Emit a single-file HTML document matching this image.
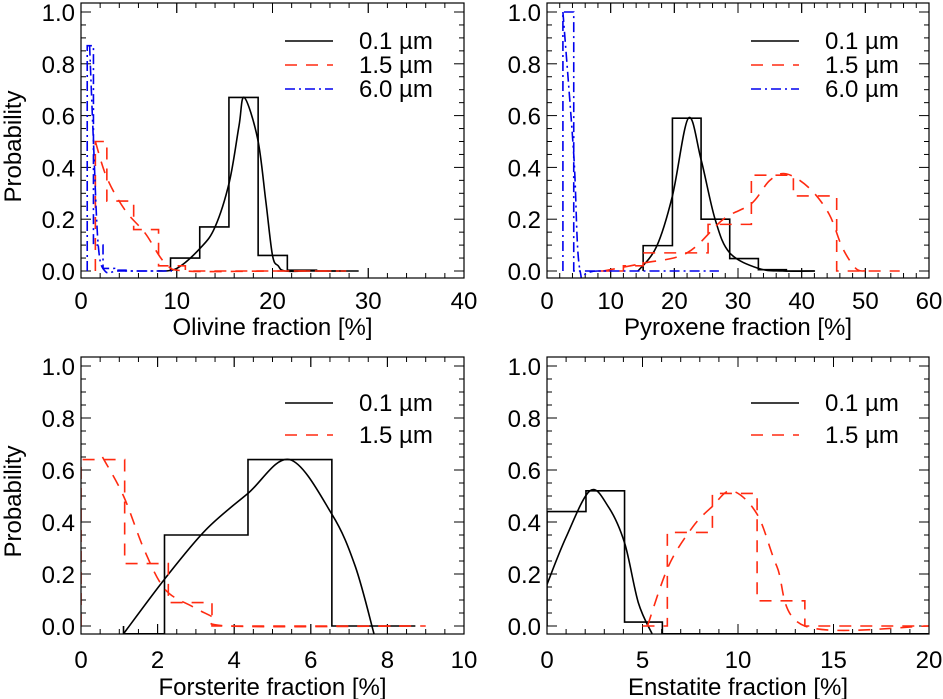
<!DOCTYPE html>
<html><head><meta charset="utf-8">
<style>
html,body{margin:0;padding:0;background:#fff;}
svg{display:block;font-family:"Liberation Sans",Arial,sans-serif;}
</style></head>
<body>
<svg id="fig" width="943" height="699" viewBox="0 0 943 699" xmlns="http://www.w3.org/2000/svg"></svg>
<script>
// ---------- Panel A: Olivine ----------
const olHistEdges = [9.35,12.4,15.45,18.5,21.55,24.6,27.65];
const olHistVals  = [0.05,0.17,0.67,0.06,0.003,0.0];
const olCurveX = [8,10,12.5,14,15.5,16.5,17.05,18.45,19.3,20,20.6,21.3,24,29];
const olCurveY = [0,0.01,0.09,0.17,0.345,0.56,0.67,0.51,0.27,0.06,0.02,0,0,0];
const olRedEdges = [1.5,2.7,5.5,8.1,10.9,13.7,16.5,19.3,22.1,24.9,27.7];
const olRedVals  = [0.5,0.27,0.16,0.02,0,0,0,0,0,0];
const olRedCurveX = [1.5,2.7,4.6,6.7,8.8,11,20,27];
const olRedCurveY = [0.5,0.36,0.235,0.146,0.03,0,0,0];
const olBlueEdges = [0.65,1.3,2.3,3.5,4.7,5.9,7.1,8.3,9.5];
const olBlueVals  = [0.87,0.1,0.01,0.003,0,0,0,0];
const olBlueCurveX = [0.9,1.3,1.8,2.5,4,8];
const olBlueCurveY = [0.87,0.5,0.1,0,0,0];

// ---------- Panel B: Pyroxene ----------
const pyHistEdges = [15.1,19.7,24.2,28.7,33.2,37.6,42.1];
const pyHistVals  = [0.098,0.59,0.2,0.048,0.005,0.0];
const pyCurveX = [14.3,17.2,19.7,22.2,24.2,26.4,28.7,33.2,37,42];
const pyCurveY = [0,0.094,0.29,0.59,0.43,0.2,0.07,0.01,0,0];
const pyRedEdges = [8.06,12.0,15.1,25.3,32.1,38.7,45.5,55.4];
const pyRedVals  = [0,0.02,0.07,0.18,0.37,0.29,0];
const pyRedCurveX = [8.8,15.1,22,27.7,32.1,35,37.6,41.2,44.3,46.4,48.5,50];
const pyRedCurveY = [0,0.03,0.07,0.2,0.26,0.35,0.375,0.32,0.22,0.09,0.01,0];
const pyBlueEdges = [2.5,4.2,5.9,7.6,9.3];
const pyBlueVals  = [1.0,0.0,0.0,0.0];
const pyBlueCurveX = [2.5,4.2,5.2,8,27];
const pyBlueCurveY = [1.0,0.45,0.0,0,0];

// ---------- Panel C: Forsterite ----------
const foHistEdges = [1.11,2.18,4.36,6.55,8.73];
const foHistVals  = [-0.03,0.35,0.64,0.0];
const foCurveX = [1.11,2.18,3.26,4.36,5.45,6.55,7.16,7.65];
const foCurveY = [-0.03,0.18,0.37,0.51,0.64,0.43,0.23,-0.03];
const foRedEdges = [0,1.14,2.28,3.42,4.56,5.7,6.84,7.98,9.0];
const foRedVals  = [0.64,0.24,0.09,0,0,0,0,0];
const foRedCurveX = [0.56,1.11,1.66,2.2,2.92,3.42,3.85,8.6];
const foRedCurveY = [0.65,0.5,0.29,0.14,0.074,0.036,0,0];

// ---------- Panel D: Enstatite ----------
const enHistEdges = [0,2.04,4.06,6.04,8.0,20];
const enHistVals  = [0.44,0.52,0.015,-0.03,-0.03];
const enCurveX = [0,0.99,2.25,3.2,4.06,4.78,5.5];
const enCurveY = [0.16,0.34,0.52,0.46,0.32,0.09,-0.03];
const enRedEdges = [5.0,6.3,8.66,11.0,13.5,15.9,18.3,20];
const enRedVals  = [0,0.36,0.51,0.097,0,0,0];
const enRedCurveX = [5.26,6.36,7.62,8.66,9.67,11.0,12.03,13.5,20];
const enRedCurveY = [0,0.23,0.38,0.46,0.52,0.43,0.23,0,0];

const yTickVals = [0,0.2,0.4,0.6,0.8,1.0];
const yTickLabels = ["0.0","0.2","0.4","0.6","0.8","1.0"];

const NS="http://www.w3.org/2000/svg";
const svg=document.getElementById('fig');
function mk(tag,attrs,parent){const e=document.createElementNS(NS,tag);for(const k in attrs)e.setAttribute(k,attrs[k]);(parent||svg).appendChild(e);return e;}

const RED="#ff2a10", BLUE="#0000ee";
const DASH="12,9", DASHDOT="10,4,2,4";
const FS=24;

function panel(cfg){
  const g=mk('g',{});
  
  
  const L=cfg.L,R=cfg.R,T=cfg.T,B=cfg.B;
  const xs=v=>L+(v-cfg.xmin)/(cfg.xmax-cfg.xmin)*(R-L);
  const ys=v=>cfg.y0-cfg.yk*v;
  const cid='clip-'+cfg.name;
  const cp=mk('clipPath',{id:cid},g);
  mk('rect',{x:L,y:T,width:R-L,height:B-T},cp);
  const tg=mk('g',{stroke:'#000','stroke-width':1},g);
  
  
  const nx=cfg.xticks.length-1;
  for(let i=0;i<nx;i++){
    const a=cfg.xticks[i],b=cfg.xticks[i+1];
    for(let j=0;j<=cfg.xminor;j++){
      const v=a+(b-a)*j/cfg.xminor; const X=xs(v); const len=(j===0||j===cfg.xminor)?10:5;
      mk('line',{x1:X,y1:B,x2:X,y2:B-len},tg);
      mk('line',{x1:X,y1:T,x2:X,y2:T+len},tg);
    }
  }
  for(let k=0;k<=20;k++){
    const v=k*0.05;
    const Y=ys(v); const maj=(k%4===0); const len=maj?10:5;
    mk('line',{x1:L,y1:Y,x2:L+len,y2:Y},tg);
    mk('line',{x1:R,y1:Y,x2:R-len,y2:Y},tg);
  }
  cfg.xticks.forEach((v,i)=>{
    const t=mk('text',{x:xs(v),y:cfg.xlabY,'font-size':FS,'text-anchor':'middle',fill:'#000'},g);
    
    
    t.textContent=cfg.xtickLabels[i];
  });
  yTickVals.forEach((v,i)=>{
    const t=mk('text',{x:L-6,y:ys(v)+9,'font-size':FS,'text-anchor':'end',fill:'#000'},g);
    
    
    t.textContent=yTickLabels[i];
  });
  const xt=mk('text',{x:(L+R)/2,y:cfg.xtitleY,'font-size':FS,'text-anchor':'middle',fill:'#000'},g);
  
  
  xt.textContent=cfg.xtitle;
  if(cfg.ytitle){
    const cy=(T+B)/2+6;
    const yt=mk('text',{x:21,y:cy,'font-size':FS,'text-anchor':'middle',fill:'#000',transform:`rotate(-90 21 ${cy})`},g);
    
    
    yt.textContent='Probability';
  }
  const dg=mk('g',{'clip-path':`url(#${cid})`,fill:'none'},g);
  function hist(edges,vals,color,dash,name){
    let d=`M${xs(edges[0])},${ys(0)}`;
    for(let i=0;i<vals.length;i++){d+=` L${xs(edges[i])},${ys(vals[i])} L${xs(edges[i+1])},${ys(vals[i])}`;}
    const p=mk('path',{d:d,stroke:color,'stroke-width':1.6,'stroke-dasharray':dash||'none'},dg);
    
    
  }
  function curve(xa,ya,color,dash,name){
    const P=xa.map((x,i)=>[xs(x),ys(ya[i])]);
    let d=`M${P[0][0]},${P[0][1]}`;
    for(let i=0;i<P.length-1;i++){
      const p0=P[Math.max(0,i-1)],p1=P[i],p2=P[i+1],p3=P[Math.min(P.length-1,i+2)];
      const c1=[p1[0]+(p2[0]-p0[0])/6,p1[1]+(p2[1]-p0[1])/6];
      const c2=[p2[0]-(p3[0]-p1[0])/6,p2[1]-(p3[1]-p1[1])/6];
      d+=` C${c1[0]},${c1[1]} ${c2[0]},${c2[1]} ${p2[0]},${p2[1]}`;
    }
    const p=mk('path',{d:d,stroke:color,'stroke-width':1.6,'stroke-dasharray':dash||'none','stroke-linejoin':'round'},dg);
    
    
  }
  cfg.series.forEach(s=>{
    hist(s.edges,s.vals,s.color,s.dash,s.key+'-histogram');
    curve(s.cx,s.cy,s.color,s.dash,s.key+'-curve');
  });
  const fr=mk('rect',{x:L,y:T,width:R-L,height:B-T,fill:'none',stroke:'#000','stroke-width':1.2},g);
  
  
  const lg=mk('g',{},g);
  
  
  cfg.series.forEach((s,i)=>{
    const y=cfg.legY[i];
    const e=mk('g',{},lg);
    
    
    mk('line',{x1:L+204,y1:y,x2:L+252,y2:y,stroke:s.color,'stroke-width':1.6,'stroke-dasharray':s.dash||'none'},e);
    const t=mk('text',{x:L+278,y:y+8,'font-size':FS,fill:'#000'},e);
    t.textContent=s.label;
  });
}

const lab=["0.1 µm","1.5 µm","6.0 µm"];
panel({name:'olivine-panel',L:81,R:464,T:3,B:278,xmin:0,xmax:40,y0:271,yk:259,
  xticks:[0,10,20,30,40],xtickLabels:["0","10","20","30","40"],xminor:5,xlabY:309,xtitle:'Olivine fraction [%]',xtitleY:335,ytitle:true,legY:[41,65,89],
  series:[
    {key:'black-0.1um',label:lab[0],color:'#000',dash:null,edges:olHistEdges,vals:olHistVals,cx:olCurveX,cy:olCurveY},
    {key:'red-1.5um',label:lab[1],color:RED,dash:DASH,edges:olRedEdges,vals:olRedVals,cx:olRedCurveX,cy:olRedCurveY},
    {key:'blue-6.0um',label:lab[2],color:BLUE,dash:DASHDOT,edges:olBlueEdges,vals:olBlueVals,cx:olBlueCurveX,cy:olBlueCurveY}]});
panel({name:'pyroxene-panel',L:547,R:929,T:3,B:278,xmin:0,xmax:60,y0:271,yk:259,
  xticks:[0,10,20,30,40,50,60],xtickLabels:["0","10","20","30","40","50","60"],xminor:5,xlabY:309,xtitle:'Pyroxene fraction [%]',xtitleY:335,ytitle:false,legY:[41,65,89],
  series:[
    {key:'black-0.1um',label:lab[0],color:'#000',dash:null,edges:pyHistEdges,vals:pyHistVals,cx:pyCurveX,cy:pyCurveY},
    {key:'red-1.5um',label:lab[1],color:RED,dash:DASH,edges:pyRedEdges,vals:pyRedVals,cx:pyRedCurveX,cy:pyRedCurveY},
    {key:'blue-6.0um',label:lab[2],color:BLUE,dash:DASHDOT,edges:pyBlueEdges,vals:pyBlueVals,cx:pyBlueCurveX,cy:pyBlueCurveY}]});
panel({name:'forsterite-panel',L:81,R:464,T:357,B:634,xmin:0,xmax:10,y0:626,yk:260,
  xticks:[0,2,4,6,8,10],xtickLabels:["0","2","4","6","8","10"],xminor:4,xlabY:668,xtitle:'Forsterite fraction [%]',xtitleY:695,ytitle:true,legY:[403,435],
  series:[
    {key:'black-0.1um',label:lab[0],color:'#000',dash:null,edges:foHistEdges,vals:foHistVals,cx:foCurveX,cy:foCurveY},
    {key:'red-1.5um',label:lab[1],color:RED,dash:DASH,edges:foRedEdges,vals:foRedVals,cx:foRedCurveX,cy:foRedCurveY}]});
panel({name:'enstatite-panel',L:547,R:929,T:357,B:634,xmin:0,xmax:20,y0:626,yk:260,
  xticks:[0,5,10,15,20],xtickLabels:["0","5","10","15","20"],xminor:5,xlabY:668,xtitle:'Enstatite fraction [%]',xtitleY:695,ytitle:false,legY:[403,435],
  series:[
    {key:'black-0.1um',label:lab[0],color:'#000',dash:null,edges:enHistEdges,vals:enHistVals,cx:enCurveX,cy:enCurveY},
    {key:'red-1.5um',label:lab[1],color:RED,dash:DASH,edges:enRedEdges,vals:enRedVals,cx:enRedCurveX,cy:enRedCurveY}]});
</script>
</body></html>
